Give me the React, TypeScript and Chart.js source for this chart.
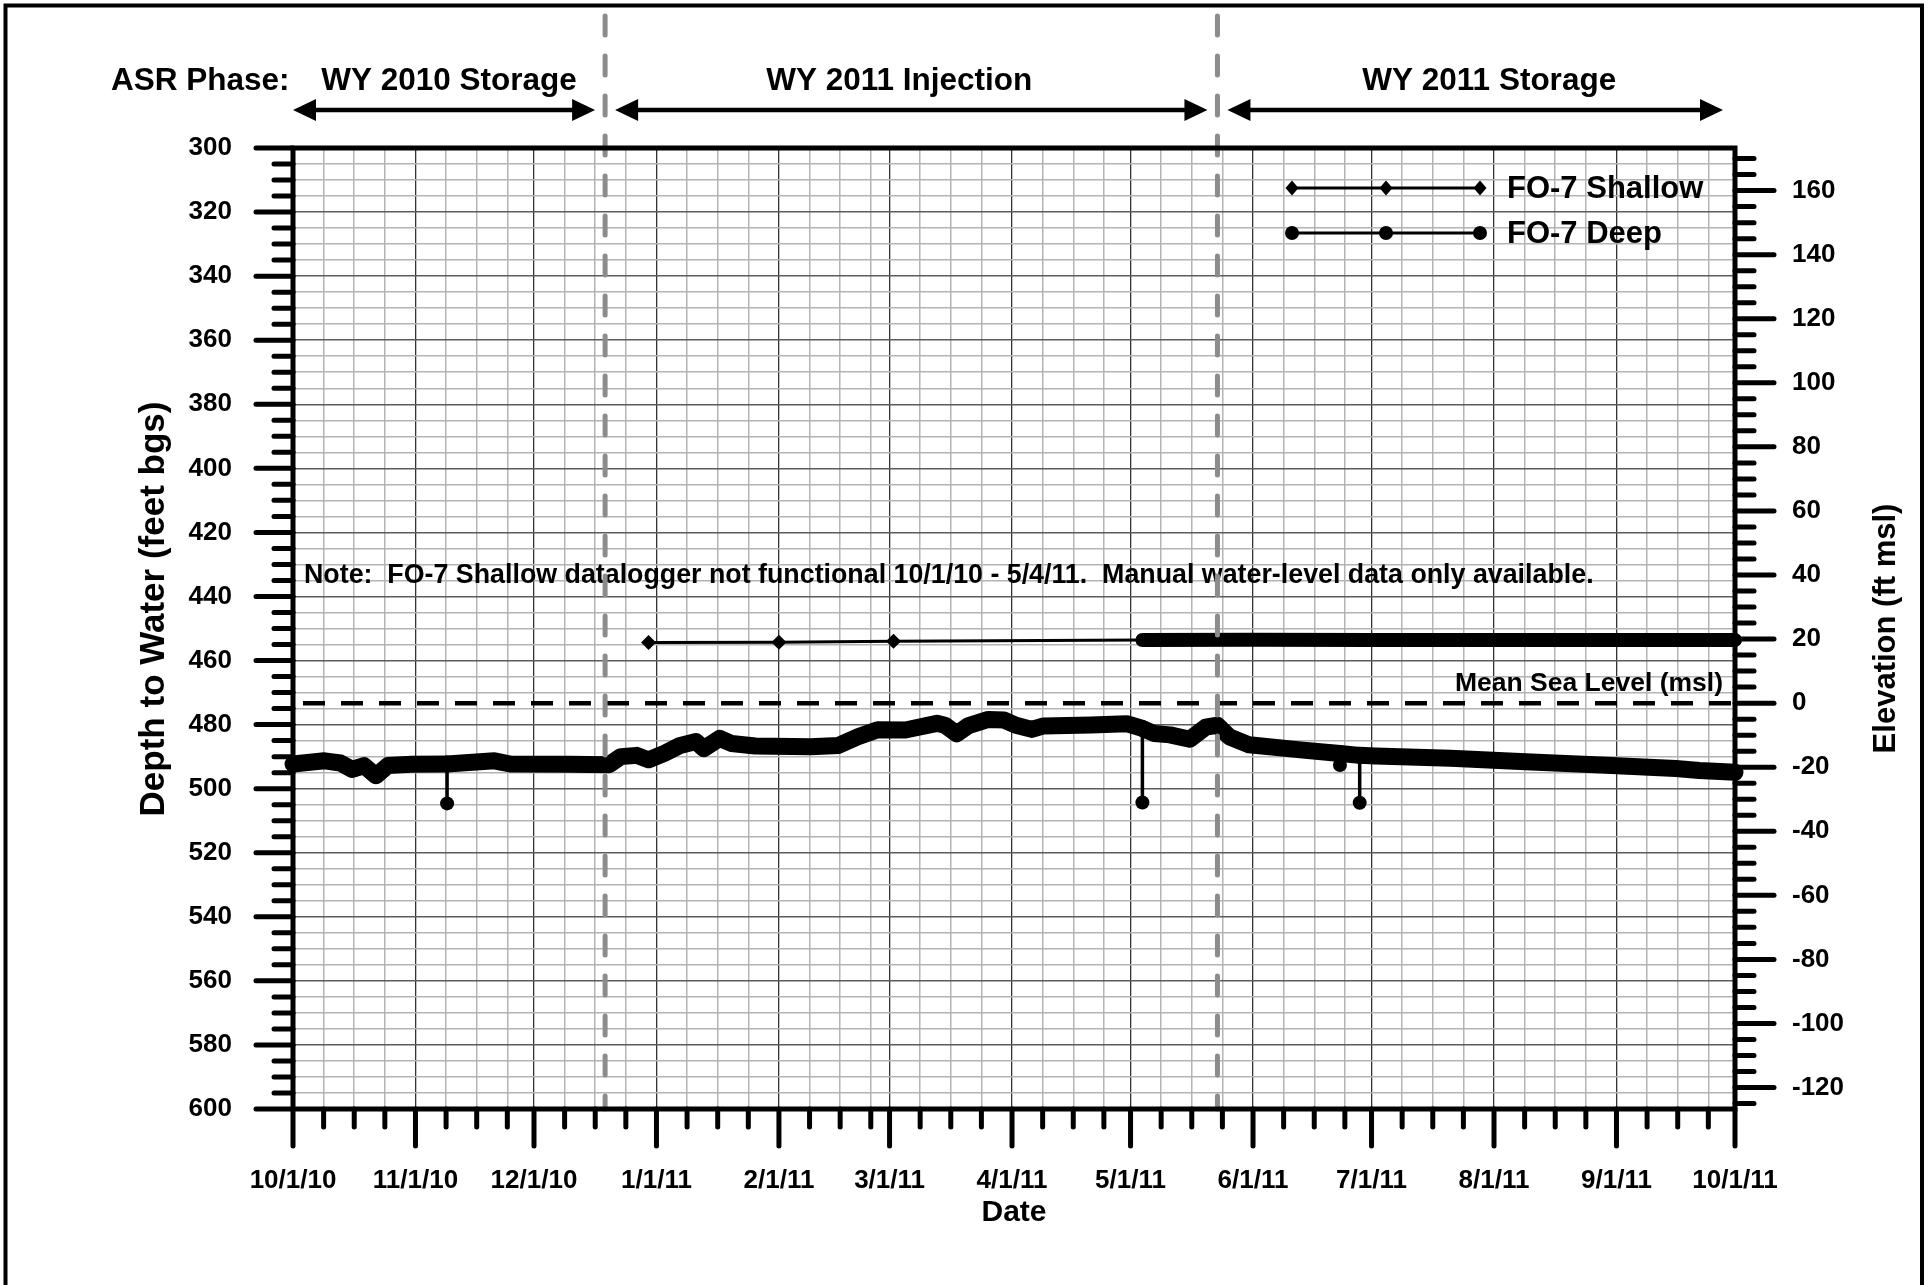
import React, { useEffect, useRef } from 'react';
import { Chart, registerables } from 'chart.js';

Chart.register(...registerables);

// ---------------- data ----------------
const monthTickLabels = ['10/1/10', '11/1/10', '12/1/10', '1/1/11', '2/1/11', '3/1/11', '4/1/11', '5/1/11', '6/1/11', '7/1/11', '8/1/11', '9/1/11', '10/1/11'];
const depthTickLabels = [300, 320, 340, 360, 380, 400, 420, 440, 460, 480, 500, 520, 540, 560, 580, 600];
const elevationTickLabels = [160, 140, 120, 100, 80, 60, 40, 20, 0, -20, -40, -60, -80, -100, -120];
const groundElevation = 473.3; // ft msl, links depth axis to elevation axis

const shallowManualDates = ['12/30/10', '2/1/11', '3/2/11'];
const shallowManualDepths = [454.4, 454.3, 454.0];
const shallowLoggerDates = ['5/4/11', '6/1/11', '7/1/11', '8/1/11', '9/1/11', '10/1/11'];
const shallowLoggerDepths = [453.6, 453.5, 453.6, 453.6, 453.6, 453.6];

const deepLoggerDates = [
  '10/1/10', '10/9/10', '10/13/10', '10/16/10', '10/19/10', '10/22/10', '10/25/10', '10/31/10',
  '11/9/10', '11/21/10', '11/25/10', '12/10/10', '12/20/10', '12/23/10', '12/27/10', '12/30/10',
  '1/3/11', '1/7/11', '1/11/11', '1/13/11', '1/17/11', '1/20/11', '1/26/11', '2/9/11',
  '2/16/11', '2/21/11', '2/26/11', '3/5/11', '3/13/11', '3/15/11', '3/18/11', '3/21/11',
  '3/26/11', '3/30/11', '4/2/11', '4/6/11', '4/9/11', '4/21/11', '4/30/11', '5/4/11',
  '5/7/11', '5/11/11', '5/16/11', '5/20/11', '5/23/11', '5/26/11', '5/31/11', '6/13/11',
  '6/23/11', '6/28/11', '7/2/11', '7/21/11', '8/9/11', '8/28/11', '9/16/11', '9/22/11',
  '10/1/11',
];
const deepLoggerDepths = [
  492.3, 491.3, 492.0, 494.0, 492.8, 496.0, 492.8, 492.4,
  492.3, 491.3, 492.3, 492.4, 492.5, 490.0, 489.6, 491.0,
  489.0, 486.5, 485.3, 487.5, 484.3, 485.9, 486.7, 486.9,
  486.5, 483.8, 481.6, 481.7, 479.6, 480.2, 482.9, 480.3,
  478.4, 478.6, 480.2, 481.5, 480.4, 480.1, 479.7, 481.2,
  482.8, 483.2, 484.6, 480.8, 480.2, 483.8, 486.3, 487.9,
  489.0, 489.6, 489.8, 490.5, 491.6, 492.6, 493.7, 494.3,
  494.9,
];
const deepManualDates = ['11/9/10', '5/4/11', '6/23/11', '6/28/11'];
const deepManualDepths = [504.6, 504.3, 492.6, 504.4];

const mslDates = ['10/1/10', '10/1/11'];
const mslElevations = [0, 0];

const phaseNames = ['WY 2010 Storage', 'WY 2011 Injection', 'WY 2011 Storage'];
const phaseStarts = ['10/1/10', '12/19/10', '5/23/11'];
const phaseEnds = ['12/19/10', '5/23/11', '10/1/11'];

const noteText = 'Note:  FO-7 Shallow datalogger not functional 10/1/10 - 5/4/11.  Manual water-level data only available.';
const mslLabel = 'Mean Sea Level (msl)';
const phaseHeader = 'ASR Phase:';
const leftTitle = 'Depth to Water (feet bgs)';
const rightTitle = 'Elevation (ft msl)';

// ---------------- helpers ----------------
const FONT = '"Liberation Sans", Arial, Helvetica, sans-serif';
const ORIGIN = Date.UTC(2010, 9, 1);
function dayOf(s: string): number {
  const [m, d, y] = s.split('/').map(Number);
  return Math.round((Date.UTC(2000 + y, m - 1, d) - ORIGIN) / 86400000);
}
const monthDays = monthTickLabels.map(dayOf);
const MINOR_STEP_DAYS = 7.75;

function buildShallow() {
  const pts: any[] = [];
  shallowManualDates.forEach((d, i) => pts.push({ x: dayOf(d), y: shallowManualDepths[i], manual: true }));
  shallowLoggerDates.forEach((d, i) => pts.push({ x: dayOf(d), y: shallowLoggerDepths[i], manual: false }));
  return pts;
}
function buildDeep() {
  const pts: any[] = [];
  deepLoggerDates.forEach((d, i) => {
    const p = { x: dayOf(d), y: deepLoggerDepths[i], manual: false };
    pts.push(p);
    const mi = deepManualDates.indexOf(d);
    if (mi >= 0) {
      pts.push({ x: dayOf(d), y: deepManualDepths[mi], manual: true });
      pts.push({ ...p });
    }
  });
  return pts;
}

const MINOR_GRID = '#b4b4b4';
const MAJOR_GRID_H = '#5c5c5c';
const MAJOR_GRID_V = '#333333';

const decorPlugin = {
  id: 'decor',
  afterDraw(chart: any) {
    const { ctx, chartArea: ca, scales } = chart;
    const xs = scales.x, y2s = scales.y2;
    const ys = scales.y;
    ctx.save();

    // note text
    ctx.fillStyle = '#000';
    ctx.textAlign = 'left';
    ctx.textBaseline = 'alphabetic';
    ctx.font = `bold 26.8px ${FONT}`;
    ctx.fillText(noteText, ca.left + 11, ca.top + 435);

    // mean sea level label
    ctx.font = `bold 26.5px ${FONT}`;
    ctx.textAlign = 'right';
    ctx.fillText(mslLabel, ca.right - 12, y2s.getPixelForValue(0) - 12);

    // phase boundary lines
    ctx.strokeStyle = '#8c8c8c';
    ctx.lineWidth = 5;
    ctx.lineCap = 'round';
    ctx.setLineDash([19, 21]);
    for (let i = 1; i < phaseStarts.length; i++) {
      const px = xs.getPixelForValue(dayOf(phaseStarts[i]));
      ctx.beginPath();
      ctx.moveTo(px, 16);
      ctx.lineTo(px, ca.bottom);
      ctx.stroke();
    }
    ctx.setLineDash([]);

    // plot frame
    ctx.strokeStyle = '#000';
    ctx.lineWidth = 5;
    ctx.lineCap = 'butt';
    ctx.strokeRect(ca.left, ca.top, ca.right - ca.left, ca.bottom - ca.top);

    // tick marks
    ctx.lineCap = 'round';
    ctx.lineWidth = 5;
    const seg = (x1: number, y1: number, x2: number, y2: number) => {
      ctx.beginPath(); ctx.moveTo(x1, y1); ctx.lineTo(x2, y2); ctx.stroke();
    };
    ys.ticks.forEach((t: any) => {
      const p = ys.getPixelForValue(t.value);
      const len = depthTickLabels.includes(t.value) ? 37 : 19;
      seg(ca.left - len, p, ca.left, p);
    });
    y2s.ticks.forEach((t: any) => {
      const p = y2s.getPixelForValue(t.value);
      const len = elevationTickLabels.includes(t.value) ? 39 : 19;
      seg(ca.right, p, ca.right + len, p);
    });
    xs.ticks.forEach((t: any) => {
      const p = xs.getPixelForValue(t.value);
      const len = t.major ? 37 : 18;
      seg(p, ca.bottom, p, ca.bottom + len);
    });

    // axis titles (both read bottom to top)
    ctx.textAlign = 'center';
    ctx.textBaseline = 'middle';
    ctx.save();
    ctx.translate(154, 609);
    ctx.rotate(-Math.PI / 2);
    ctx.font = `bold 35px ${FONT}`;
    ctx.fillText(leftTitle, 0, 0);
    ctx.restore();
    ctx.save();
    ctx.translate(1886, (ca.top + ca.bottom) / 2);
    ctx.rotate(-Math.PI / 2);
    ctx.font = `bold 31px ${FONT}`;
    ctx.fillText(rightTitle, 0, 0);
    ctx.restore();

    // phase header + arrows
    ctx.font = `bold 31.5px ${FONT}`;
    ctx.textBaseline = 'alphabetic';
    ctx.textAlign = 'left';
    ctx.fillText(phaseHeader, 111, 90);
    const nudge = [5, -12, 14];
    const ay = 110;
    for (let i = 0; i < phaseNames.length; i++) {
      const a = xs.getPixelForValue(dayOf(phaseStarts[i])) + (i === 0 ? 0 : 10);
      const b = xs.getPixelForValue(dayOf(phaseEnds[i])) - (i === phaseNames.length - 1 ? 12 : 10);
      ctx.textAlign = 'center';
      ctx.fillText(phaseNames[i], (a + b) / 2 + nudge[i], 90);
      const hl = 23, hw = 11;
      ctx.lineWidth = 4.5;
      ctx.lineCap = 'butt';
      seg(a + hl - 2, ay, b - hl + 2, ay);
      ctx.beginPath(); ctx.moveTo(a, ay); ctx.lineTo(a + hl, ay - hw); ctx.lineTo(a + hl, ay + hw); ctx.closePath(); ctx.fill();
      ctx.beginPath(); ctx.moveTo(b, ay); ctx.lineTo(b - hl, ay - hw); ctx.lineTo(b - hl, ay + hw); ctx.closePath(); ctx.fill();
    }

    // legend
    const rows = [{ ds: 0, y: 188 }, { ds: 1, y: 233 }];
    rows.forEach((r) => {
      const dset = chart.data.datasets[r.ds];
      ctx.lineWidth = 3;
      ctx.lineCap = 'butt';
      seg(1292, r.y, 1480, r.y);
      [1292, 1386, 1480].forEach((mx) => {
        ctx.beginPath();
        if (dset.pointStyle === 'rectRot') {
          ctx.moveTo(mx, r.y - 7.5); ctx.lineTo(mx + 6.5, r.y); ctx.lineTo(mx, r.y + 7.5); ctx.lineTo(mx - 6.5, r.y); ctx.closePath();
        } else {
          ctx.arc(mx, r.y, 7, 0, Math.PI * 2);
        }
        ctx.fill();
      });
      ctx.font = `bold 31px ${FONT}`;
      ctx.textAlign = 'left';
      ctx.textBaseline = 'middle';
      ctx.fillText(dset.label, 1507, r.y + 1);
    });

    // outer figure border
    ctx.lineWidth = 4;
    ctx.strokeStyle = '#000';
    ctx.strokeRect(5.5, 5.5, 1916.5, 1300);

    ctx.restore();
  },
};

export default function App() {
  const ref = useRef<HTMLCanvasElement | null>(null);

  useEffect(() => {
    document.body.style.margin = '0';
    const canvas = ref.current;
    if (!canvas) return;
    Chart.defaults.font.family = FONT;
    Chart.defaults.color = '#000';

    const shallow = buildShallow();
    const deep = buildDeep();
    const msl = mslDates.map((d, i) => ({ x: dayOf(d), y: mslElevations[i] }));

    const chart = new Chart(canvas, {
      type: 'line',
      data: {
        datasets: [
          {
            label: 'FO-7 Shallow',
            data: shallow,
            yAxisID: 'y',
            borderColor: '#000',
            backgroundColor: '#000',
            pointBackgroundColor: '#000',
            pointBorderWidth: 0,
            pointStyle: 'rectRot',
            pointRadius: (c: any) => (c.raw && c.raw.manual ? 7.5 : 0),
            borderCapStyle: 'round',
            borderJoinStyle: 'round',
            borderWidth: 14,
            tension: 0,
            clip: 12,
            segment: {
              borderWidth: (c: any) => {
                const d = c.chart.data.datasets[c.datasetIndex].data;
                return d[c.p0DataIndex].manual || d[c.p1DataIndex].manual ? 3 : 14;
              },
            },
          },
          {
            label: 'FO-7 Deep',
            data: deep,
            yAxisID: 'y',
            borderColor: '#000',
            backgroundColor: '#000',
            pointBackgroundColor: '#000',
            pointBorderWidth: 0,
            pointStyle: 'circle',
            pointRadius: (c: any) => (c.raw && c.raw.manual ? 7 : 0),
            borderCapStyle: 'round',
            borderJoinStyle: 'round',
            borderWidth: 17,
            tension: 0,
            clip: 12,
            segment: {
              borderWidth: (c: any) => {
                const d = c.chart.data.datasets[c.datasetIndex].data;
                return d[c.p0DataIndex].manual || d[c.p1DataIndex].manual ? 3.5 : 17;
              },
            },
          },
          {
            label: 'Mean Sea Level',
            data: msl,
            yAxisID: 'y2',
            borderColor: '#000',
            borderWidth: 4.5,
            borderDash: [22, 16],
            borderDashOffset: 28,
            pointRadius: 0,
            tension: 0,
          },
        ],
      },
      options: {
        animation: false,
        responsive: false,
        devicePixelRatio: 1,
        events: [],
        layout: { padding: { top: 148, left: 0, right: 0, bottom: 0 } },
        plugins: {
          legend: { display: false },
          tooltip: { enabled: false },
          title: { display: false },
        },
        scales: {
          x: {
            type: 'linear',
            position: 'bottom',
            min: monthDays[0],
            max: monthDays[monthDays.length - 1],
            afterBuildTicks: (scale: any) => {
              const t: any[] = [];
              for (let i = 0; i < monthDays.length; i++) {
                t.push({ value: monthDays[i], major: true });
                if (i < monthDays.length - 1) {
                  for (let k = 1; k <= 3; k++) {
                    const v = monthDays[i] + k * MINOR_STEP_DAYS;
                    if (v < monthDays[i + 1] - 1) t.push({ value: v, major: false });
                  }
                }
              }
              scale.ticks = t;
            },
            afterFit: (scale: any) => { scale.height = 176; },
            ticks: {
              autoSkip: false,
              maxRotation: 0,
              minRotation: 0,
              padding: 56,
              color: '#000',
              font: { size: 26, weight: 'bold' },
              callback: (value: any) => {
                const idx = monthDays.indexOf(Number(value));
                return idx >= 0 ? monthTickLabels[idx] : '';
              },
            },
            grid: {
              drawTicks: false,
              color: (c: any) => (c.tick && c.tick.major ? MAJOR_GRID_V : MINOR_GRID),
              lineWidth: (c: any) => (c.tick && c.tick.major ? 1.3 : 1.5),
            },
            border: { display: false },
            title: {
              display: true,
              text: 'Date',
              color: '#000',
              font: { size: 30, weight: 'bold' },
              padding: { top: 0, bottom: 54 },
            },
          },
          y: {
            type: 'linear',
            position: 'left',
            reverse: true,
            min: depthTickLabels[0],
            max: depthTickLabels[depthTickLabels.length - 1],
            afterBuildTicks: (scale: any) => {
              const t: any[] = [];
              for (let v = depthTickLabels[0]; v <= depthTickLabels[depthTickLabels.length - 1]; v += 5) t.push({ value: v });
              scale.ticks = t;
            },
            afterFit: (scale: any) => { scale.width = 293; },
            ticks: {
              autoSkip: false,
              padding: 61,
              color: '#000',
              font: { size: 26, weight: 'bold' },
              callback: (value: any) => (depthTickLabels.includes(Number(value)) ? String(value) : ''),
            },
            grid: {
              drawTicks: false,
              color: (c: any) => (c.tick && depthTickLabels.includes(c.tick.value) ? MAJOR_GRID_H : MINOR_GRID),
              lineWidth: 1.5,
            },
            border: { display: false },
            title: { display: false },
          },
          y2: {
            type: 'linear',
            position: 'right',
            min: groundElevation - depthTickLabels[depthTickLabels.length - 1],
            max: groundElevation - depthTickLabels[0],
            afterBuildTicks: (scale: any) => {
              const t: any[] = [];
              const lo = Math.ceil(scale.min / 5) * 5;
              const hi = Math.floor(scale.max / 5) * 5;
              for (let v = lo; v <= hi; v += 5) t.push({ value: v });
              scale.ticks = t;
            },
            afterFit: (scale: any) => { scale.width = 197; },
            ticks: {
              autoSkip: false,
              padding: 57,
              color: '#000',
              font: { size: 26, weight: 'bold' },
              callback: (value: any) => (elevationTickLabels.includes(Number(value)) ? String(value) : ''),
            },
            grid: { display: false, drawTicks: false },
            border: { display: false },
          },
        },
      },
      plugins: [decorPlugin],
    } as any);

    return () => chart.destroy();
  }, []);

  return (
    <div style={{ width: 1932, height: 1285, background: '#fff', overflow: 'hidden' }}>
      <canvas ref={ref} width={1932} height={1285} style={{ display: 'block' }} />
    </div>
  );
}
